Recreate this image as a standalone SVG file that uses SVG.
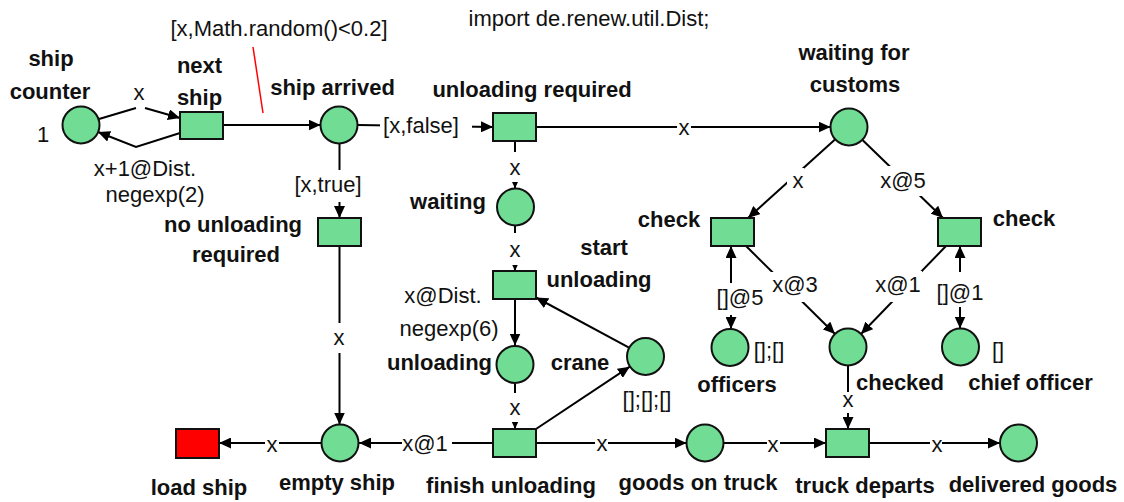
<svg xmlns="http://www.w3.org/2000/svg" width="1124" height="502" viewBox="0 0 1124 502">
<defs>
<marker id="ah" viewBox="0 0 12 11" markerWidth="12" markerHeight="11" refX="12" refY="5.5" orient="auto-start-reverse" markerUnits="userSpaceOnUse">
<path d="M0,0 L12,5.5 L0,11 z" fill="#000"/>
</marker>
<style>
.pl{fill:#70dc94;stroke:#111;stroke-width:2}
.tr{fill:#70dc94;stroke:#111;stroke-width:2}
.rd{fill:#ff0000;stroke:#111;stroke-width:2}
.arc{fill:none;stroke:#000;stroke-width:2}
.arr{marker-end:url(#ah)}
.bi{marker-start:url(#ah);marker-end:url(#ah)}
.bg{fill:#fff;stroke:none}
text{font-family:"Liberation Sans",Arial,sans-serif;font-size:22px;fill:#111;text-anchor:middle}
.b{font-weight:bold}
</style>
</defs>
<rect width="1124" height="502" fill="#fff"/>

<g id="connectors">
<path class="arc arr" d="M99,119 L136,108 M145,108 L180,118"/>
<path class="arc arr" d="M180,133 L136,147 L98,132"/>
<path class="arc arr" d="M223,125 L320.5,125"/>
<path class="arc arr" d="M357.5,125 L493,127"/>
<path class="arc arr" d="M536,127 L830.5,127"/>
<path class="arc arr" d="M339.5,143.5 L339.5,218"/>
<path class="arc arr" d="M339.5,246 L339.5,424.5"/>
<path class="arc arr" d="M515,141 L515,188.5"/>
<path class="arc arr" d="M515,225.5 L515,271"/>
<path class="arc arr" d="M515,299 L515,345.5"/>
<path class="arc arr" d="M515,383.5 L515,429"/>
<path class="arc arr" d="M629,347.6 L536,297.5"/>
<path class="arc arr" d="M536,429 L629.8,366.7"/>
<path class="arc arr" d="M493,443 L359,443"/>
<path class="arc arr" d="M321,443 L219,443"/>
<path class="arc arr" d="M536,443 L686.5,443"/>
<path class="arc arr" d="M723.5,443 L826,443"/>
<path class="arc arr" d="M869,443 L1000,443"/>
<path class="arc arr" d="M848,365.5 L848,429"/>
<path class="arc arr" d="M835,139.5 L748,218"/>
<path class="arc arr" d="M862.5,140 L943,218"/>
<path class="arc arr" d="M746,246 L835,334"/>
<path class="arc arr" d="M946,246 L861,334"/>
<path class="arc bi" d="M731,329 L731,246"/>
<path class="arc bi" d="M960,328.5 L960,246"/>
<line x1="253" y1="47" x2="263" y2="113" stroke="#ff0000" stroke-width="1.5"/>

<rect class="bg" x="295" y="170" width="66" height="32"/>
<rect class="bg" x="380" y="112" width="92" height="26"/>
<rect class="bg" x="677" y="115" width="14" height="24"/>
<rect class="bg" x="508" y="152" width="14" height="30"/>
<rect class="bg" x="508" y="233" width="14" height="32"/>
<rect class="bg" x="508" y="393" width="14" height="29"/>
<rect class="bg" x="332" y="323" width="14" height="30"/>
<rect class="bg" x="265" y="430" width="14" height="26"/>
<rect class="bg" x="402" y="430" width="50" height="26"/>
<rect class="bg" x="595" y="430" width="13" height="26"/>
<rect class="bg" x="767" y="430" width="13" height="26"/>
<rect class="bg" x="930" y="430" width="12" height="26"/>
<rect class="bg" x="841" y="392" width="14" height="21"/>
<rect class="bg" x="787" y="168" width="17" height="25"/>
<rect class="bg" x="882" y="166" width="40" height="30"/>
<rect class="bg" x="770" y="272" width="50" height="30"/>
<rect class="bg" x="876" y="271" width="46" height="31"/>
<rect class="bg" x="717" y="283" width="47" height="32"/>
<rect class="bg" x="938" y="272" width="46" height="35"/>

<text x="139" y="100">x</text>
<text x="145" y="176">x+1@Dist.</text>
<text x="155" y="202">negexp(2)</text>
<text x="328" y="192">[x,true]</text>
<text x="421" y="133">[x,false]</text>
<text x="684" y="135">x</text>
<text x="515" y="175">x</text>
<text x="515" y="257">x</text>
<text x="443" y="303">x@Dist.</text>
<text x="449" y="336">negexp(6)</text>
<text x="515" y="415">x</text>
<text x="339" y="345">x</text>
<text x="272" y="452">x</text>
<text x="425" y="451">x@1</text>
<text x="602" y="451">x</text>
<text x="773" y="452">x</text>
<text x="937" y="452">x</text>
<text x="848" y="407">x</text>
<text x="798" y="188">x</text>
<text x="903" y="188">x@5</text>
<text x="795" y="292">x@3</text>
<text x="898" y="292">x@1</text>
<text x="740" y="305">[]@5</text>
<text x="960" y="300">[]@1</text>
</g>

<text x="589" y="26">import de.renew.util.Dist;</text>
<text x="279" y="36">[x,Math.random()&lt;0.2]</text>

<g id="ship-counter">
<circle class="pl" cx="81" cy="125" r="18.5"/>
<text class="b" x="51" y="66">ship</text>
<text class="b" x="50" y="99">counter</text>
<text x="43" y="142">1</text>
</g>
<g id="next-ship">
<rect class="tr" x="180" y="112" width="43" height="27"/>
<text class="b" x="199.5" y="73">next</text>
<text class="b" x="199.5" y="105">ship</text>
</g>
<g id="ship-arrived">
<circle class="pl" cx="339" cy="125" r="18.5"/>
<text class="b" x="332.5" y="95">ship arrived</text>
</g>
<g id="unloading-required">
<rect class="tr" x="493" y="113" width="43" height="28"/>
<text class="b" x="532" y="97">unloading required</text>
</g>
<g id="waiting-for-customs">
<circle class="pl" cx="849" cy="127" r="18.5"/>
<text class="b" x="854" y="60">waiting for</text>
<text class="b" x="855" y="92">customs</text>
</g>
<g id="no-unloading-required">
<rect class="tr" x="318" y="218" width="43" height="28"/>
<text class="b" x="233" y="232">no unloading</text>
<text class="b" x="236" y="262">required</text>
</g>
<g id="waiting">
<circle class="pl" cx="515.5" cy="207" r="18.5"/>
<text class="b" x="448" y="209">waiting</text>
</g>
<g id="start-unloading">
<rect class="tr" x="493" y="271" width="43" height="28"/>
<text class="b" x="604" y="255">start</text>
<text class="b" x="599" y="287">unloading</text>
</g>
<g id="unloading">
<circle class="pl" cx="515" cy="364.5" r="18.5"/>
<text class="b" x="439.5" y="370">unloading</text>
</g>
<g id="crane">
<circle class="pl" cx="645.5" cy="356.5" r="18.5"/>
<text class="b" x="580" y="370">crane</text>
<text x="647" y="407">[];[];[]</text>
</g>
<g id="finish-unloading">
<rect class="tr" x="493" y="429" width="43" height="28"/>
<text class="b" x="511" y="493">finish unloading</text>
</g>
<g id="empty-ship">
<circle class="pl" cx="340" cy="443" r="18.5"/>
<text class="b" x="337" y="490">empty ship</text>
</g>
<g id="load-ship">
<rect class="rd" x="176" y="429" width="43" height="29"/>
<text class="b" x="199" y="495">load ship</text>
</g>
<g id="goods-on-truck">
<circle class="pl" cx="705" cy="443" r="18.5"/>
<text class="b" x="698" y="490">goods on truck</text>
</g>
<g id="truck-departs">
<rect class="tr" x="826" y="429" width="43" height="28"/>
<text class="b" x="865" y="493">truck departs</text>
</g>
<g id="delivered-goods">
<circle class="pl" cx="1018.5" cy="443" r="18.5"/>
<text class="b" x="1033" y="492">delivered goods</text>
</g>
<g id="check-left">
<rect class="tr" x="711" y="218" width="43" height="28"/>
<text class="b" x="669" y="227">check</text>
</g>
<g id="check-right">
<rect class="tr" x="938" y="218" width="43" height="28"/>
<text class="b" x="1024" y="226">check</text>
</g>
<g id="officers">
<circle class="pl" cx="730" cy="347.5" r="18.5"/>
<text class="b" x="737" y="392">officers</text>
<text x="769" y="358">[];[]</text>
</g>
<g id="checked">
<circle class="pl" cx="848" cy="347" r="18.5"/>
<text class="b" x="900" y="390">checked</text>
</g>
<g id="chief-officer">
<circle class="pl" cx="960.5" cy="347" r="18.5"/>
<text class="b" x="1030.5" y="390">chief officer</text>
<text x="998" y="358">[]</text>
</g>
</svg>
